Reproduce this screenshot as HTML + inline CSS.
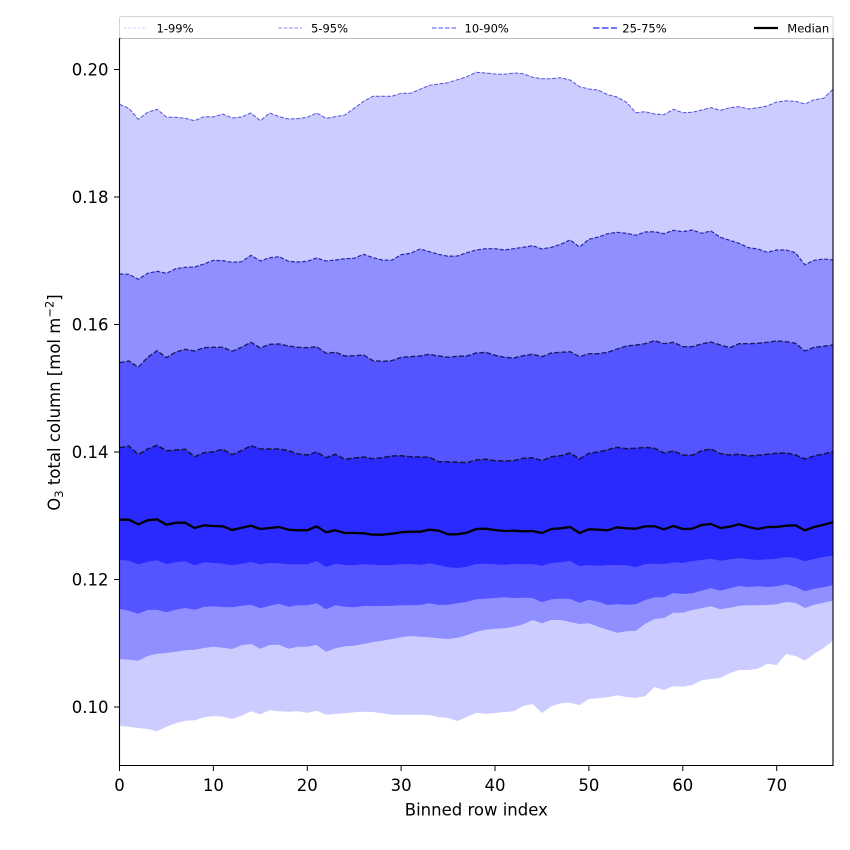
<!DOCTYPE html>
<html>
<head>
<meta charset="utf-8">
<style>
  html, body { margin: 0; padding: 0; background: #ffffff; }
  svg { display: block; }
  text { font-family: "DejaVu Sans", "Liberation Sans", sans-serif; fill: #000; }
</style>
</head>
<body>
<svg width="850" height="850" viewBox="0 0 850 850" xmlns="http://www.w3.org/2000/svg">
  <rect x="0" y="0" width="850" height="850" fill="#ffffff"/>
  <defs>
    <clipPath id="plotclip">
      <rect x="119.5" y="38.5" width="713.5" height="727"/>
    </clipPath>
  </defs>

  <g clip-path="url(#plotclip)">
    <g transform="translate(119.5,0) scale(9.388,1)">
      <!-- 1-99 band -->
      <polygon fill="#ccccff" points="0,104.3 1,108.3 2,119.3 3,112.3 4,109.3 5,117 6,117.3 7,118.3 8,120.7 9,116.7 10,117 11,114 12,118 13,117 14,113 15,120.7 16,113 17,116.7 18,119 19,118.7 20,117.3 21,113 22,118.3 23,116.7 24,115 25,108.3 26,101.3 27,96.3 28,96.3 29,96.3 30,93.3 31,93.3 32,89.3 33,85.3 34,84 35,82.7 36,79.7 37,76.7 38,72.3 39,73 40,74 41,74.3 42,73 43,73.7 44,77.3 45,78.7 46,78.7 47,77.7 48,80 49,86.7 50,89 51,90 52,94.7 53,97 54,102.3 55,112.7 56,111.7 57,114 58,114.7 59,109.3 60,112.7 61,112.3 62,110 63,107.7 64,110.3 65,107.7 66,106.7 67,109 68,107.7 69,106 70,102 71,100.7 72,101.3 73,104 74,99.7 75,98.3 76,89.3 76,640.7 75,648 74,653.7 73,660.7 72,656 71,654 70,665 69,663.7 68,668.7 67,670 66,670 65,673.3 64,678 63,679 62,680.3 61,685 60,686.7 59,686 58,690 57,687 56,696 55,698 54,697 53,695.3 52,697.3 51,698.3 50,699 49,705 48,702.7 47,703.3 46,706.3 45,713 44,704 43,706 42,711.3 41,712 40,713 39,714 38,712.7 37,717 36,721 35,718 34,717.3 33,715 32,714.7 31,714.7 30,714.7 29,714.7 28,713.3 27,712 26,711.7 25,712.3 24,713.3 23,714 22,714.7 21,710.7 20,712.7 19,711.3 18,711.7 17,711.3 16,710.3 15,714.3 14,711.3 13,715.7 12,719 11,716.7 10,716 9,717.3 8,720.3 7,720.7 6,723.3 5,726.7 4,731.3 3,729 2,728 1,726.7 0,725.7"/>
      <!-- 5-95 band -->
      <polygon fill="#8f8fff" points="0,274 1,274.3 2,279.3 3,273.3 4,271.3 5,273.3 6,268.7 7,267.3 8,267 9,264 10,260.3 11,260.7 12,262.3 13,261.7 14,255.3 15,261 16,257.7 17,256.7 18,261.3 19,262 20,261.3 21,258 22,261 23,260 24,258.7 25,258.3 26,254.3 27,257.7 28,260 29,260.3 30,254.7 31,253.3 32,249 33,251.7 34,254.3 35,256.3 36,256 37,252.7 38,250 39,248.7 40,248.7 41,250 42,248.7 43,247.3 44,245.7 45,249 46,247.3 47,244.3 48,240 49,247 50,239.3 51,237 52,233.7 53,232.3 54,233.3 55,235.3 56,232 57,231.7 58,233.7 59,230.3 60,231.7 61,230 62,233.3 63,231 64,237.3 65,240.3 66,243.3 67,247.7 68,249 69,252.3 70,250 71,250 72,252.7 73,264.7 74,260.3 75,259 76,260 76,600.7 75,602.7 74,604.7 73,608 72,602.7 71,602 70,604.3 69,605 68,605.3 67,605.3 66,605.7 65,607.7 64,609.3 63,606.3 62,608.3 61,610 60,612.7 59,612.7 58,618 57,619 56,623.7 55,630.7 54,631.3 53,632.7 52,629.7 51,626.7 50,623.3 49,624 48,622 47,620 46,620 45,623.3 44,620 43,624.3 42,626.7 41,628.3 40,628.7 39,629.7 38,631.7 37,635.3 36,637.7 35,639 34,638.3 33,637.3 32,636.7 31,636 30,637.3 29,639 28,640.7 27,642 26,644 25,645.7 24,646.3 23,648.3 22,651.7 21,645 20,646.7 19,646.7 18,648.7 17,644.7 16,645 15,648.7 14,644 13,645.3 12,649 11,647.7 10,646.7 9,648 8,649.7 7,650.3 6,651.7 5,653 4,653.7 3,656 2,660.7 1,659.7 0,659"/>
      <!-- 10-90 band -->
      <polygon fill="#5555ff" points="0,362.7 1,361 2,367.3 3,357.3 4,350.7 5,357.7 6,352 7,349.3 8,351 9,347.7 10,347.3 11,347.3 12,351.3 13,347.3 14,342.3 15,348 16,344.3 17,344 18,346 19,347.3 20,347.7 21,346.7 22,353.3 23,352.3 24,356 25,355.7 26,355 27,360.7 28,361.3 29,360.7 30,357.3 31,356.7 32,356 33,354.3 34,356 35,357.3 36,356.3 37,356 38,353 39,352.3 40,355.3 41,357.3 42,358 43,355.7 44,354.3 45,356.7 46,353 47,352.3 48,351.7 49,356.7 50,353.7 51,353.7 52,352.3 53,349 54,346 55,345 56,343.7 57,340.7 58,343.7 59,342.3 60,346.7 61,346.7 62,344 63,342 64,345 65,347.7 66,343.7 67,343.7 68,343.3 69,342.3 70,341 71,341.7 72,343.3 73,351 74,347.3 75,346.3 76,345 76,585 75,587.3 74,588.7 73,591.3 72,586.7 71,584.3 70,586.3 69,587 68,586.3 67,587 66,586 65,588.3 64,590.7 63,588.3 62,590.7 61,593.3 60,594 59,593 58,597.3 57,597.3 56,600 55,604.3 54,604.7 53,604.3 52,605 51,601.7 50,599.7 49,602.7 48,599 47,598.7 46,599.3 45,602.3 44,598 43,597.7 42,598 41,597.3 40,598 39,598.7 38,599.3 37,601.7 36,603.3 35,604.7 34,605 33,603.3 32,605 31,605.3 30,605.3 29,605.7 28,606 27,606 26,606 25,607.3 24,606.7 23,605.3 22,609.3 21,603.3 20,605.3 19,605.3 18,606.7 17,603.7 16,605.7 15,608.3 14,604.7 13,605.7 12,607.3 11,607 10,606.3 9,607 8,609.7 7,608 6,609.7 5,612.3 4,609.7 3,610 2,613.7 1,610.7 0,609"/>
      <!-- 25-75 band -->
      <polygon fill="#2a2aff" points="0,447.7 1,446 2,454.7 3,449 4,445.3 5,450.7 6,450 7,449.3 8,456.7 9,452.7 10,451.7 11,449.3 12,454.7 13,450.7 14,445.7 15,449 16,449 17,449 18,450.7 19,454 20,455 21,452 22,457.7 23,454.3 24,459.3 25,458 26,457 27,458.7 28,457.7 29,456 30,455.7 31,456.7 32,457 33,457.3 34,461.7 35,461.7 36,462.3 37,462.7 38,460 39,459.3 40,460.7 41,461 42,460.7 43,458.3 44,457.7 45,460.7 46,456.7 47,455.7 48,453 49,459 50,453.3 51,452 52,449.7 53,447.3 54,448.7 55,448.3 56,447.3 57,448.3 58,453 59,451 60,455 61,455.3 62,450.7 63,449 64,453.7 65,455 66,454.3 67,456 68,455.3 69,454.3 70,453.3 71,453 72,455 73,459 74,456 75,454 76,451.7 76,555.7 75,557 74,559 73,561.3 72,558 71,557 70,558.7 69,559.3 68,560 67,559.3 66,558 65,559.3 64,560.7 63,558.7 62,560 61,561 60,563 59,562.3 58,564 57,563.7 56,564 55,567.3 54,565.3 53,565 52,565 51,565.7 50,565 49,566.3 48,561 47,562.3 46,563 45,565.7 44,564 43,564.3 42,564 41,564.7 40,564.3 39,563.7 38,564 37,566.7 36,568 35,567.3 34,565 33,563.3 32,564.7 31,564 30,564.3 29,565 28,565.3 27,564.7 26,564.3 25,565.3 24,565 23,563.7 22,567 21,561 20,564.3 19,564.3 18,564.3 17,563.3 16,563 15,564.3 14,562 13,563.7 12,565.3 11,563.7 10,563 9,562.3 8,565.3 7,561.3 6,562.3 5,564 4,560.3 3,561.7 2,564.3 1,560.7 0,560"/>

      <!-- upper percentile dashed lines -->
      <polyline fill="none" stroke="#5353dc" stroke-width="1" stroke-dasharray="4,1.5" vector-effect="non-scaling-stroke" points="0,104.3 1,108.3 2,119.3 3,112.3 4,109.3 5,117 6,117.3 7,118.3 8,120.7 9,116.7 10,117 11,114 12,118 13,117 14,113 15,120.7 16,113 17,116.7 18,119 19,118.7 20,117.3 21,113 22,118.3 23,116.7 24,115 25,108.3 26,101.3 27,96.3 28,96.3 29,96.3 30,93.3 31,93.3 32,89.3 33,85.3 34,84 35,82.7 36,79.7 37,76.7 38,72.3 39,73 40,74 41,74.3 42,73 43,73.7 44,77.3 45,78.7 46,78.7 47,77.7 48,80 49,86.7 50,89 51,90 52,94.7 53,97 54,102.3 55,112.7 56,111.7 57,114 58,114.7 59,109.3 60,112.7 61,112.3 62,110 63,107.7 64,110.3 65,107.7 66,106.7 67,109 68,107.7 69,106 70,102 71,100.7 72,101.3 73,104 74,99.7 75,98.3 76,89.3"/>
      <polyline fill="none" stroke="#2828a8" stroke-width="1.2" stroke-dasharray="4,1.7" vector-effect="non-scaling-stroke" points="0,274 1,274.3 2,279.3 3,273.3 4,271.3 5,273.3 6,268.7 7,267.3 8,267 9,264 10,260.3 11,260.7 12,262.3 13,261.7 14,255.3 15,261 16,257.7 17,256.7 18,261.3 19,262 20,261.3 21,258 22,261 23,260 24,258.7 25,258.3 26,254.3 27,257.7 28,260 29,260.3 30,254.7 31,253.3 32,249 33,251.7 34,254.3 35,256.3 36,256 37,252.7 38,250 39,248.7 40,248.7 41,250 42,248.7 43,247.3 44,245.7 45,249 46,247.3 47,244.3 48,240 49,247 50,239.3 51,237 52,233.7 53,232.3 54,233.3 55,235.3 56,232 57,231.7 58,233.7 59,230.3 60,231.7 61,230 62,233.3 63,231 64,237.3 65,240.3 66,243.3 67,247.7 68,249 69,252.3 70,250 71,250 72,252.7 73,264.7 74,260.3 75,259 76,260"/>
      <polyline fill="none" stroke="#1c1c66" stroke-width="1.4" stroke-dasharray="5,2" vector-effect="non-scaling-stroke" points="0,362.7 1,361 2,367.3 3,357.3 4,350.7 5,357.7 6,352 7,349.3 8,351 9,347.7 10,347.3 11,347.3 12,351.3 13,347.3 14,342.3 15,348 16,344.3 17,344 18,346 19,347.3 20,347.7 21,346.7 22,353.3 23,352.3 24,356 25,355.7 26,355 27,360.7 28,361.3 29,360.7 30,357.3 31,356.7 32,356 33,354.3 34,356 35,357.3 36,356.3 37,356 38,353 39,352.3 40,355.3 41,357.3 42,358 43,355.7 44,354.3 45,356.7 46,353 47,352.3 48,351.7 49,356.7 50,353.7 51,353.7 52,352.3 53,349 54,346 55,345 56,343.7 57,340.7 58,343.7 59,342.3 60,346.7 61,346.7 62,344 63,342 64,345 65,347.7 66,343.7 67,343.7 68,343.3 69,342.3 70,341 71,341.7 72,343.3 73,351 74,347.3 75,346.3 76,345"/>
      <polyline fill="none" stroke="#14143c" stroke-width="1.5" stroke-dasharray="5.5,2.2" vector-effect="non-scaling-stroke" points="0,447.7 1,446 2,454.7 3,449 4,445.3 5,450.7 6,450 7,449.3 8,456.7 9,452.7 10,451.7 11,449.3 12,454.7 13,450.7 14,445.7 15,449 16,449 17,449 18,450.7 19,454 20,455 21,452 22,457.7 23,454.3 24,459.3 25,458 26,457 27,458.7 28,457.7 29,456 30,455.7 31,456.7 32,457 33,457.3 34,461.7 35,461.7 36,462.3 37,462.7 38,460 39,459.3 40,460.7 41,461 42,460.7 43,458.3 44,457.7 45,460.7 46,456.7 47,455.7 48,453 49,459 50,453.3 51,452 52,449.7 53,447.3 54,448.7 55,448.3 56,447.3 57,448.3 58,453 59,451 60,455 61,455.3 62,450.7 63,449 64,453.7 65,455 66,454.3 67,456 68,455.3 69,454.3 70,453.3 71,453 72,455 73,459 74,456 75,454 76,451.7"/>
      <!-- median -->
      <polyline fill="none" stroke="#000000" stroke-width="2.3" stroke-linejoin="round" vector-effect="non-scaling-stroke" points="0,519.7 1,519.7 2,524.3 3,520.3 4,519.3 5,524.7 6,522.7 7,522.7 8,528 9,525.3 10,526 11,526.3 12,530 13,527.7 14,525.7 15,529 16,528 17,527 18,529.7 19,530.3 20,530.3 21,526.3 22,532.3 23,530.3 24,533 25,533 26,533.3 27,534.7 28,534.7 29,533.7 30,532.3 31,531.7 32,531.7 33,529.7 34,530.7 35,534.3 36,534.3 37,532.7 38,529 39,528.7 40,530 41,531 42,530.7 43,531.3 44,531 45,533 46,529 47,528.3 48,527 49,533 50,529.3 51,529.7 52,530.3 53,527.3 54,528.3 55,528.7 56,526.3 57,526.3 58,529.3 59,526 60,529 61,528.7 62,525 63,524 64,528 65,526.7 66,524.3 67,527 68,529 69,527 70,527 71,525.7 72,525.3 73,530.3 74,527 75,524.7 76,522.3"/>
    </g>
  </g>

  <!-- spines -->
  <g stroke="#000" stroke-width="1.1" fill="none">
    <line x1="119.5" y1="38.5" x2="119.5" y2="766"/>
    <line x1="119" y1="765.5" x2="833.5" y2="765.5"/>
    <line x1="833" y1="38.5" x2="833" y2="766"/>
    <line x1="119" y1="38.5" x2="833.5" y2="38.5"/>
  </g>

  <!-- y ticks -->
  <g stroke="#000" stroke-width="1">
    <line x1="114" y1="707" x2="119.5" y2="707"/>
    <line x1="114" y1="579.5" x2="119.5" y2="579.5"/>
    <line x1="114" y1="452" x2="119.5" y2="452"/>
    <line x1="114" y1="324.5" x2="119.5" y2="324.5"/>
    <line x1="114" y1="197" x2="119.5" y2="197"/>
    <line x1="114" y1="69.5" x2="119.5" y2="69.5"/>
  </g>
  <g font-size="16.5" text-anchor="end">
    <text x="108.5" y="713">0.10</text>
    <text x="108.5" y="585.5">0.12</text>
    <text x="108.5" y="458">0.14</text>
    <text x="108.5" y="330.5">0.16</text>
    <text x="108.5" y="203">0.18</text>
    <text x="108.5" y="75.5">0.20</text>
  </g>

  <!-- x ticks -->
  <g stroke="#000" stroke-width="1">
    <line x1="119.5" y1="765.5" x2="119.5" y2="771"/>
    <line x1="213.4" y1="765.5" x2="213.4" y2="771"/>
    <line x1="307.3" y1="765.5" x2="307.3" y2="771"/>
    <line x1="401.1" y1="765.5" x2="401.1" y2="771"/>
    <line x1="495" y1="765.5" x2="495" y2="771"/>
    <line x1="588.9" y1="765.5" x2="588.9" y2="771"/>
    <line x1="682.8" y1="765.5" x2="682.8" y2="771"/>
    <line x1="776.7" y1="765.5" x2="776.7" y2="771"/>
  </g>
  <g font-size="16.5" text-anchor="middle">
    <text x="119.5" y="790.8">0</text>
    <text x="213.4" y="790.8">10</text>
    <text x="307.3" y="790.8">20</text>
    <text x="401.1" y="790.8">30</text>
    <text x="495" y="790.8">40</text>
    <text x="588.9" y="790.8">50</text>
    <text x="682.8" y="790.8">60</text>
    <text x="776.7" y="790.8">70</text>
  </g>

  <!-- axis labels -->
  <text x="476.3" y="815.5" font-size="16.5" text-anchor="middle">Binned row index</text>
  <text transform="translate(60,402.5) rotate(-90)" x="0" y="0" font-size="16.5" text-anchor="middle">O<tspan font-size="11.5" dy="3">3</tspan><tspan dy="-3"> total column [mol m</tspan><tspan font-size="11.5" dy="-6.5">−2</tspan><tspan dy="6.5">]</tspan></text>

  <!-- legend -->
  <rect x="119.5" y="16.5" width="713.5" height="22" rx="2" ry="2" fill="#ffffff" fill-opacity="0.8" stroke="#cccccc" stroke-opacity="0.85" stroke-width="1"/>
  <line x1="124" y1="28" x2="147" y2="28" stroke="#d2d2f8" stroke-width="1" stroke-dasharray="3,1.5"/>
  <text x="156.5" y="32.3" font-size="11.5">1-99%</text>
  <line x1="278" y1="28" x2="302" y2="28" stroke="#8f8fef" stroke-width="1" stroke-dasharray="4,1.5"/>
  <text x="311" y="32.3" font-size="11.5">5-95%</text>
  <line x1="432" y1="28" x2="456" y2="28" stroke="#6c6cf5" stroke-width="1.3" stroke-dasharray="4.5,2"/>
  <text x="464.5" y="32.3" font-size="11.5">10-90%</text>
  <line x1="593" y1="28" x2="617" y2="28" stroke="#7373ff" stroke-width="2" stroke-dasharray="6.5,2.5"/>
  <text x="622.3" y="32.3" font-size="11.5">25-75%</text>
  <line x1="754" y1="28" x2="778" y2="28" stroke="#000000" stroke-width="2.2"/>
  <text x="787.3" y="32.3" font-size="11.5">Median</text>
</svg>
</body>
</html>
